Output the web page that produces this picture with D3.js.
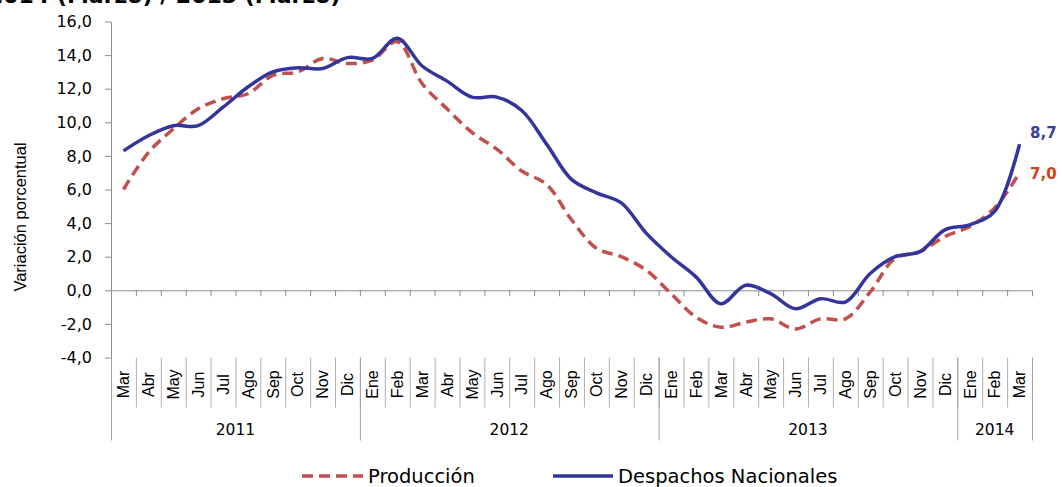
<!DOCTYPE html>
<html>
<head>
<meta charset="utf-8">
<script src="https://cdn.jsdelivr.net/npm/d3@7"></script>
<style>
  html, body { margin: 0; padding: 0; background: #fff; }
  svg { display: block; }
</style>
</head>
<body>
<svg id="chart" width="1063" height="487"></svg>
<script>
// ---- data ----
const months = ["Mar","Abr","May","Jun","Jul","Ago","Sep","Oct","Nov","Dic",
  "Ene","Feb","Mar","Abr","May","Jun","Jul","Ago","Sep","Oct","Nov","Dic",
  "Ene","Feb","Mar","Abr","May","Jun","Jul","Ago","Sep","Oct","Nov","Dic",
  "Ene","Feb","Mar"];
const years = ["2011","2012","2013","2014"];
const yearMonthCounts = [10, 12, 12, 3];
const produccion = [6.0, 8.2, 9.6, 10.8, 11.4, 11.7, 12.8, 13.0, 13.8, 13.5,
  13.7, 14.8, 12.3, 10.8, 9.4, 8.4, 7.1, 6.3, 4.2, 2.5, 2.0, 1.2,
  -0.2, -1.6, -2.2, -1.9, -1.7, -2.3, -1.7, -1.7, -0.1, 1.9, 2.3, 3.2,
  3.8, 4.9, 7.0];
const despachos = [8.3, 9.2, 9.8, 9.8, 10.9, 12.1, 13.0, 13.25, 13.2, 13.85,
  13.8, 15.0, 13.35, 12.45, 11.5, 11.5, 10.7, 8.7, 6.6, 5.8, 5.2, 3.4,
  2.0, 0.8, -0.8, 0.3, -0.2, -1.1, -0.5, -0.7, 1.0, 2.0, 2.3, 3.6,
  3.9, 4.7, 8.7];
const yTicks = [-4, -2, 0, 2, 4, 6, 8, 10, 12, 14, 16];
const seriesNames = ["Producción", "Despachos Nacionales"];
const lastLabels = ["7,0", "8,7"];

// ---- setup ----
const svg = d3.select("#chart");
const mLeft = 111, mRight = 1032, mTop = 21.5, mBottom = 357.5;
const idx = d3.range(months.length);
const x = d3.scaleBand().domain(idx).range([mLeft, mRight]).padding(0);
const xb = d3.scaleLinear().domain([0, months.length]).range([mLeft, mRight]);
const y = d3.scaleLinear().domain([-4, 16]).range([mBottom, mTop]);
const loc = d3.formatLocale({decimal: ",", thousands: ".", grouping: [3], currency: ["", ""], minus: "-"});
const fmt = loc.format(".1f");
const axisColor = "#8c8c8c";
const blue = "#33359a", red = "#c0504d";

// title (clipped at top, as in the reference)
svg.append("text")
  .attr("x", -12).attr("y", 3)
  .attr("font-family", "DejaVu Sans").attr("font-weight", "bold").attr("font-size", 22)
  .attr("fill", "#000")
  .text("2014 (Marzo) / 2013 (Marzo)");

// y axis
const yAxis = svg.append("g").attr("transform", `translate(${mLeft},0)`)
  .call(d3.axisLeft(y).tickValues(yTicks).tickFormat(fmt).tickSize(6).tickSizeOuter(0));
yAxis.select(".domain").attr("stroke", axisColor);
yAxis.selectAll(".tick line").attr("stroke", axisColor);
yAxis.selectAll(".tick text").attr("font-family", "DejaVu Sans").attr("font-size", 16)
  .attr("fill", "#000").attr("x", -19);

// y title
svg.append("text")
  .attr("transform", "translate(26,217) rotate(-90)")
  .attr("text-anchor", "middle")
  .attr("font-family", "Liberation Sans").attr("font-size", 16.5).attr("fill", "#000")
  .text("Variación porcentual");

// zero line axis with boundary ticks
const zAxis = svg.append("g").attr("transform", `translate(0,${y(0)})`)
  .call(d3.axisBottom(xb).tickValues(d3.range(months.length + 1)).tickFormat("").tickSize(6).tickSizeOuter(0));
zAxis.select(".domain").attr("stroke", axisColor);
zAxis.selectAll(".tick line").attr("stroke", axisColor);

// month separators
const sep = svg.append("g").attr("transform", `translate(0,${mBottom})`)
  .call(d3.axisBottom(xb).tickValues(d3.range(months.length + 1)).tickFormat("").tickSize(50).tickSizeOuter(0));
sep.select(".domain").remove();
sep.selectAll(".tick line").attr("stroke", "#b0b0b0");

// year separators
const yb = [0];
yearMonthCounts.forEach((c, i) => yb.push(yb[i] + c));
const ysep = svg.append("g").attr("transform", `translate(0,${mBottom})`)
  .call(d3.axisBottom(xb).tickValues(yb).tickFormat("").tickSize(83).tickSizeOuter(0));
ysep.select(".domain").remove();
ysep.selectAll(".tick line").attr("stroke", "#a0a0a0");

// month labels
const mAxis = svg.append("g").attr("transform", `translate(0,${mBottom})`)
  .call(d3.axisBottom(x).tickFormat(i => months[i]).tickSize(0));
mAxis.select(".domain").remove();
mAxis.selectAll(".tick text")
  .attr("x", 0).attr("y", 0).attr("dy", "0.36em")
  .attr("transform", "translate(0,27) rotate(-90)")
  .attr("text-anchor", "middle")
  .attr("font-family", "Liberation Sans").attr("font-size", 16).attr("fill", "#000");

// year labels
svg.append("g").selectAll("text").data(years).join("text")
  .attr("x", (d, i) => (xb(yb[i]) + xb(yb[i + 1])) / 2)
  .attr("y", 435)
  .attr("text-anchor", "middle")
  .attr("font-family", "DejaVu Sans").attr("font-size", 15.5).attr("fill", "#000")
  .text(d => d);

// lines
const line = d3.line()
  .x((d, i) => x(i) + x.bandwidth() / 2)
  .y(d => y(d))
  .curve(d3.curveCatmullRom.alpha(0.5));

svg.append("path").datum(produccion)
  .attr("d", line).attr("fill", "none")
  .attr("stroke", red).attr("stroke-width", 3.5).attr("stroke-dasharray", "11,6");
svg.append("path").datum(despachos)
  .attr("d", line).attr("fill", "none")
  .attr("stroke", blue).attr("stroke-width", 3.5);

// end labels
const lastI = months.length - 1;
svg.append("text").attr("x", 1030).attr("y", y(despachos[lastI]) - 6)
  .attr("font-family", "DejaVu Sans").attr("font-weight", "bold").attr("font-size", 15)
  .attr("fill", "#3b3f9c").text(lastLabels[1]);
svg.append("text").attr("x", 1030).attr("y", y(produccion[lastI]) + 6)
  .attr("font-family", "DejaVu Sans").attr("font-weight", "bold").attr("font-size", 15)
  .attr("fill", "#d0440e").text(lastLabels[0]);

// legend
const legend = svg.append("g");
legend.append("line").attr("x1", 302).attr("x2", 363).attr("y1", 476).attr("y2", 476)
  .attr("stroke", red).attr("stroke-width", 3.5).attr("stroke-dasharray", "11,6");
legend.append("text").attr("x", 368).attr("y", 483)
  .attr("font-family", "DejaVu Sans").attr("font-size", 19.5).attr("fill", "#000")
  .text(seriesNames[0]);
legend.append("line").attr("x1", 553).attr("x2", 613).attr("y1", 476).attr("y2", 476)
  .attr("stroke", blue).attr("stroke-width", 3.5);
legend.append("text").attr("x", 618).attr("y", 483)
  .attr("font-family", "DejaVu Sans").attr("font-size", 19.5).attr("fill", "#000")
  .text(seriesNames[1]);
</script>
</body>
</html>
